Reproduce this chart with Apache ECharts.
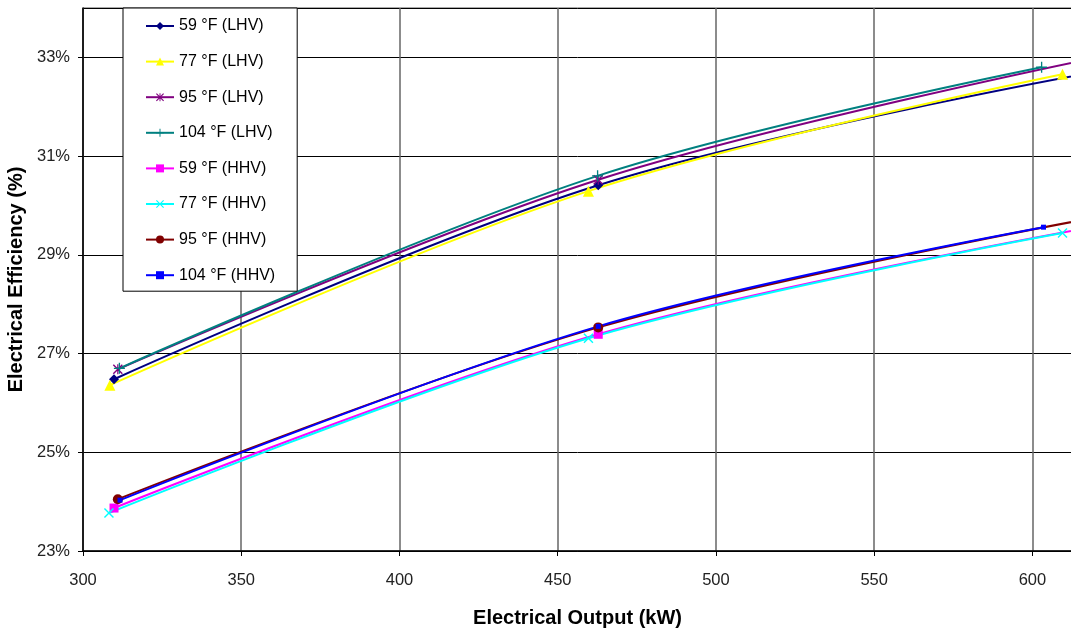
<!DOCTYPE html>
<html>
<head>
<meta charset="utf-8">
<script src="https://cdn.jsdelivr.net/npm/echarts@6/dist/echarts.min.js"></script>
<style>
  html, body { margin: 0; padding: 0; background: #fff; }
  #chart { width: 1071px; height: 633px; }
</style>
</head>
<body>
<div id="chart"></div>
<script>
// series names, in legend order
var seriesNames = ['59 °F (LHV)', '77 °F (LHV)', '95 °F (LHV)', '104 °F (LHV)',
                   '59 °F (HHV)', '77 °F (HHV)', '95 °F (HHV)', '104 °F (HHV)'];

// electrical output (kW)
var lhv59X = [309.8, 462.8, 618];
var lhv77X = [308.5, 459.7, 609.5];
var lhv95X = [311.0, 462.8, 617];
var lhv104X = [311.5, 462.6, 602.9];
var hhv59X = [309.8, 462.8, 618];
var hhv77X = [308.2, 459.7, 609.5];
var hhv95X = [311.0, 462.8, 617];
var hhv104X = [311.7, 462.8, 603.5];

// electrical efficiency (%)
var lhv59Y = [26.48, 30.41, 32.68];
var lhv77Y = [26.36, 30.29, 32.66];
var lhv95Y = [26.68, 30.52, 32.95];
var lhv104Y = [26.70, 30.60, 32.80];
var hhv59Y = [23.87, 27.39, 29.55];
var hhv77Y = [23.77, 27.31, 29.44];
var hhv95Y = [24.05, 27.53, 29.72];
var hhv104Y = [24.03, 27.55, 29.56];

var xTicks = { min: 300, max: 612.5, step: 50 };
var yTicks = { min: 23, max: 34, step: 2 };

var colors = ['#000080', '#FFFF00', '#800080', '#008080', '#FF00FF', '#00FFFF', '#800000', '#0000FF'];

// marker shapes
var crossPath = 'path://M0,1L1,0L5,4L9,0L10,1L6,5L10,9L9,10L5,6L1,10L0,9L4,5Z';
var plusPath = 'path://M4.4,0H5.6V4.4H10V5.6H5.6V10H4.4V5.6H0V4.4H4.4Z';
var starPath = 'path://M0,1L1,0L5,4L9,0L10,1L6,5L10,9L9,10L5,6L1,10L0,9L4,5Z M4.4,0H5.6V10H4.4Z';
var symbols = ['diamond', 'triangle', starPath, plusPath, 'rect', crossPath, 'circle', 'rect'];
var symbolSizes = [10, 11, 10, 11, 9, 10, 10, 5];

var xs = [lhv59X, lhv77X, lhv95X, lhv104X, hhv59X, hhv77X, hhv95X, hhv104X];
var ys = [lhv59Y, lhv77Y, lhv95Y, lhv104Y, hhv59Y, hhv77Y, hhv95Y, hhv104Y];

function pairs(x, y) {
    var out = [];
    for (var i = 0; i < x.length; i++) out.push([x[i], y[i]]);
    return out;
}

var series = seriesNames.map(function (name, i) {
    return {
        name: name,
        type: 'line',
        smooth: 0.35,
        data: pairs(xs[i], ys[i]),
        symbol: symbols[i],
        symbolSize: symbolSizes[i],
        showAllSymbol: true,
        color: colors[i],
        itemStyle: { color: colors[i] },
        lineStyle: { color: colors[i], width: 2 },
        emphasis: { disabled: true }
    };
});

var chart = echarts.init(document.getElementById('chart'), null, { renderer: 'canvas' });

chart.setOption({
    animation: false,
    backgroundColor: '#ffffff',
    textStyle: { fontFamily: 'Liberation Sans, Arial, sans-serif' },
    grid: {
        left: 83, right: -1, top: 8, bottom: 82,
        outerBoundsMode: 'none',
        show: true, borderColor: '#555', borderWidth: 1
    },
    legend: {
        orient: 'vertical',
        left: 123,
        top: 8,
        backgroundColor: '#ffffff',
        borderColor: '#000',
        borderWidth: 1,
        borderRadius: 0,
        padding: [10, 22, 8, 22],
        itemGap: 19.6,
        itemWidth: 28,
        itemHeight: 10,
        textStyle: { fontSize: 16, color: '#000', fontFamily: 'Liberation Sans, Arial, sans-serif' },
        data: seriesNames
    },
    xAxis: {
        type: 'value',
        min: xTicks.min,
        max: xTicks.max,
        interval: xTicks.step,
        name: 'Electrical Output (kW)',
        nameLocation: 'middle',
        nameGap: 57,
        nameTextStyle: { fontSize: 20, fontWeight: 'bold', color: '#000' },
        axisLine: { show: true, lineStyle: { color: '#000', width: 1.5 } },
        axisTick: { show: true, length: 5, lineStyle: { color: '#000' } },
        axisLabel: { fontSize: 16.5, color: '#222', margin: 21, showMaxLabel: false },
        splitLine: { show: true, lineStyle: { color: '#666', width: 1.5 } }
    },
    yAxis: {
        type: 'value',
        min: yTicks.min,
        max: yTicks.max,
        interval: yTicks.step,
        name: 'Electrical Efficiency (%)',
        nameLocation: 'middle',
        nameGap: 53,
        nameTextStyle: { fontSize: 20, fontWeight: 'bold', color: '#000' },
        axisLine: { show: true, lineStyle: { color: '#000', width: 1.5 } },
        axisTick: { show: true, length: 5, lineStyle: { color: '#000' } },
        axisLabel: {
            fontSize: 16.5, color: '#222', margin: 13, showMaxLabel: false,
            formatter: function (v) { return v + '%'; }
        },
        splitLine: { show: true, lineStyle: { color: '#000', width: 1 } }
    },
    series: series
});
</script>
</body>
</html>
